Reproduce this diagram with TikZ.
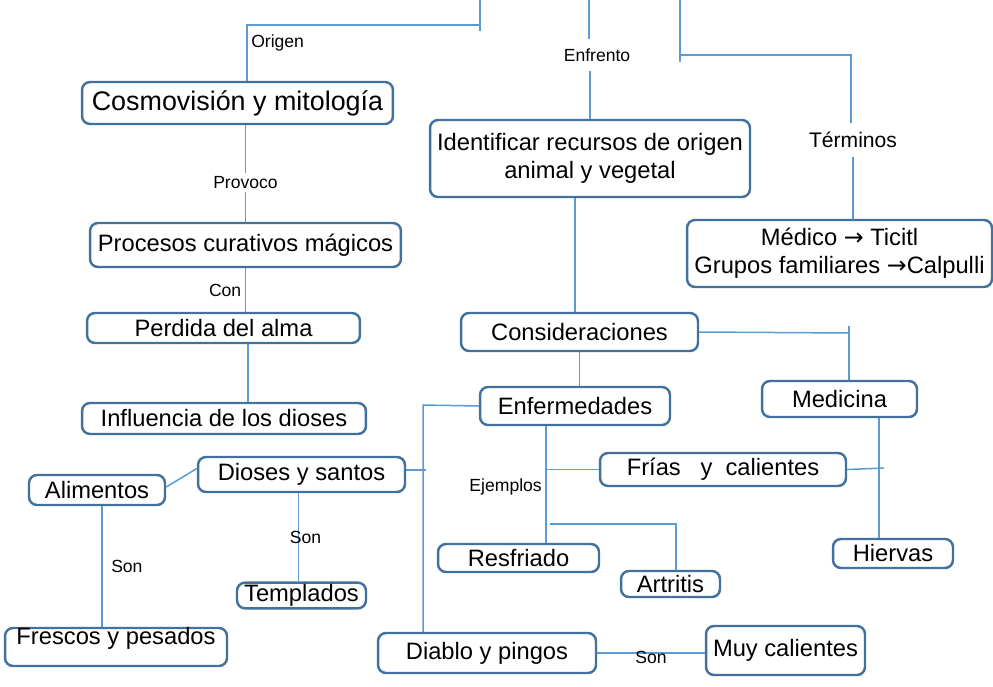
\documentclass[tikz,border=0pt]{standalone}
\usepackage{fontspec}
\setmainfont{Liberation Sans}
\newfontfamily\arrowfont{DejaVu Sans}
\usepackage{tikz}
\definecolor{boxblue}{RGB}{65,113,156}
\definecolor{linkblue}{RGB}{91,155,213}
\tikzstyle{box} = [rectangle, rounded corners=0.16cm, draw=boxblue, line width=1.4pt, inner sep=1pt, align=center, font=\fontsize{13.5}{16}\selectfont]
\tikzstyle{line} = [draw=linkblue, line width=0.85pt]
\tikzstyle{lbl} = [inner sep=2pt, font=\fontsize{10}{12}\selectfont]

\begin{document}
\begin{tikzpicture}[x=0.02cm, y=-0.02cm]
        \useasboundingbox (0,0) rectangle (993,686);

        \node (1) [box, minimum width=6.22cm, minimum height=0.84cm, font=\fontsize{15.3}{18}\selectfont] at (237.5,103) {Cosmovisión y mitología};
        \node (2) [box, minimum width=6.22cm, minimum height=0.88cm] at (245.5,245) {Procesos curativos mágicos};
        \node (3) [box, minimum width=5.46cm, minimum height=0.60cm] at (223.5,328) {Perdida del alma};
        \node (4) [box, minimum width=5.68cm, minimum height=0.62cm] at (224,418.5) {Influencia de los dioses};
        \node (5) [box, minimum width=6.40cm, minimum height=1.54cm] at (590,158.5) {Identificar recursos de origen \\ animal y vegetal};
        \node (6) [box, minimum width=6.10cm, minimum height=1.34cm] at (839.5,253.5) {Médico {\arrowfont →} Ticitl \\ Grupos familiares {\arrowfont →}Calpulli};
        \node (7) [box, minimum width=4.74cm, minimum height=0.76cm] at (579.5,332) {Consideraciones};
        \node (8) [box, minimum width=3.10cm, minimum height=0.72cm] at (839.5,399) {Medicina};
        \node (9) [box, minimum width=3.80cm, minimum height=0.76cm] at (575,406) {Enfermedades};
        \node (10) [box, minimum width=4.92cm, minimum height=0.66cm] at (723,469.5) {Frías\ \ \ y\ \ calientes};
        \node (11) [box, minimum width=3.22cm, minimum height=0.56cm] at (518.5,558) {Resfriado};
        \node (12) [box, minimum width=1.98cm, minimum height=0.52cm] at (670.5,584) {Artritis};
        \node (13) [box, minimum width=2.40cm, minimum height=0.58cm] at (893,553.5) {Hiervas};
        \node (14) [box, minimum width=4.36cm, minimum height=0.80cm] at (487,653) {Diablo y pingos};
        \node (15) [box, minimum width=3.18cm, minimum height=0.98cm] at (785.5,650.5) {Muy calientes};
        \node (16) [box, minimum width=2.72cm, minimum height=0.60cm] at (97,490) {Alimentos};
        \node (17) [box, minimum width=4.14cm, minimum height=0.70cm] at (301.5,474.5) {Dioses y santos};
        \node (18) [box, minimum width=4.44cm, minimum height=0.76cm] at (116,647) {\raisebox{0.2cm}[0.3cm][0cm]{Frescos y pesados}};
        \node (19) [box, minimum width=2.58cm, minimum height=0.50cm] at (301.5,595.5) {Templados};

        % lines coming in from the top
        \coordinate (a) at (480,0);
        \coordinate (b) at (480,31);
        \coordinate (c) at (247,25);
        \coordinate (d) at (480,25);
        \draw[line] (a) -- (b);
        \draw[line] (d) -- (c) -- node[lbl, right, pos=0.33] (L1) {Origen} (c |- 1.north);

        \coordinate (e) at (589,0);
        \node (L2) [lbl, inner ysep=5pt] at (597,55) {Enfrento};
        \draw[line] (e) -- (e |- L2.north);
        \draw[line] (L2.south -| 5.north) -- (5.north);

        \coordinate (f) at (680,0);
        \coordinate (g) at (680,62);
        \coordinate (h) at (680,55);
        \coordinate (i) at (851,55);
        \node (L3) [lbl, inner ysep=5pt, font=\fontsize{12}{14}\selectfont] at (853,140) {Términos};
        \draw[line] (f) -- (g);
        \draw[line] (h) -- (i) -- (i |- L3.north);
        \draw[line] (L3.south) -- (L3.south |- 6.north);

        % left column
        \draw[line] (1.south -| 2.north) -- node[lbl, fill=white, pos=0.59] (L4) {Provoco} (2.north);
        \draw[line] (2.south) -- node[lbl, left] (L5) {Con} (2.south |- 3.north);
        \draw[line] ([xshift=0.49cm]3.south) -- ([xshift=0.49cm]3.south |- 4.north);

        % middle
        \draw[line] ([xshift=-0.3cm]5.south) -- ([xshift=-0.3cm]5.south |- 7.north);
        \coordinate (j) at (849,333);
        \coordinate (k) at (849,326);
        \draw[line] (7.east) -- (j);
        \draw[line] (k) -- (k |- 8.north);
        \draw[line] (7.south) -- (7.south |- 9.north);

        \coordinate (m) at (423,405);
        \coordinate (n) at (426,470);
        \draw[line] (9.west) -- (m) -- (m |- 14.north);
        \draw[line] (17.east |- n) -- (n);
        \draw[line] ([yshift=0.06cm]16.east) -- ([yshift=0.12cm]17.west);
        \draw[line] ([xshift=0.1cm]16.south) -- node[lbl, right, xshift=0.1cm] (L7) {Son} ([xshift=0.1cm]16.south |- 18.north);
        \draw[line] ([xshift=-0.06cm]17.south) -- node[lbl, xshift=0.14cm] (L8) {Son} ([xshift=-0.06cm]17.south |- 19.north);

        \coordinate (o) at ([xshift=-0.58cm]9.south);
        \coordinate (q0) at (550,524);
        \coordinate (q) at (676,524);
        \draw[line] (o) -- node[lbl, left, pos=0.52] (L6) {Ejemplos} (o |- 11.north);
        \draw[line] (o |- 10.west) -- (10.west);
        \draw[line] (q0) -- (q) -- (q |- 12.north);

        \coordinate (r) at ([xshift=0.79cm]8.south);
        \coordinate (s) at (884,468);
        \draw[line] (r) -- (r |- 13.north);
        \draw[line] (10.east) -- (s);

        \draw[line] (14.east) -- node[lbl, yshift=-0.08cm] (L9) {Son} (14.east -| 15.west);

    \end{tikzpicture}
\end{document}
